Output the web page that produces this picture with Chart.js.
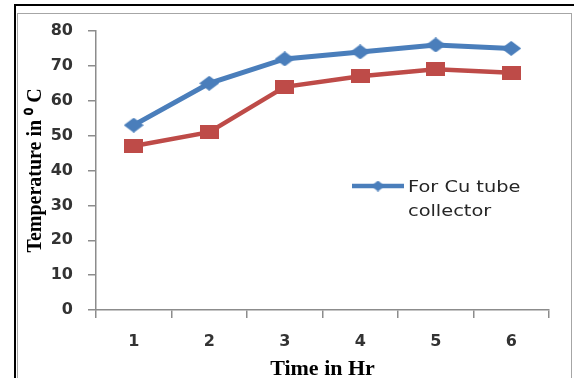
<!DOCTYPE html>
<html>
<head>
<meta charset="utf-8">
<script src="https://cdn.jsdelivr.net/npm/chart.js@4"></script>
<style>
  html, body { margin: 0; padding: 0; background: #fff; }
  #wrap { position: relative; width: 574px; height: 378px; overflow: hidden; background: #fff; }
  #outer { position: absolute; left: 14px; top: 4px; width: 600px; height: 400px;
           border-left: 2px solid #000; border-top: 2px solid #000; box-sizing: border-box; }
  #frame { position: absolute; left: 16.5px; top: 12.5px; width: 555px; height: 400px;
           border: 1.5px solid #a6a6a6; box-sizing: border-box; }
  #c { position: absolute; left: 0; top: 0; }
</style>
</head>
<body>
<div id="wrap">
  <div id="outer"></div>
  <div id="frame"></div>
  <canvas id="c" width="574" height="378"></canvas>
</div>
<script>
const categories = ['1', '2', '3', '4', '5', '6'];
const cuTube = [53, 65, 72, 74, 76, 75];
const secondSeries = [47, 51, 64, 67, 69, 68];
const yTicks = [0, 10, 20, 30, 40, 50, 60, 70, 80];
const xTitle = 'Time in Hr';
const yTitle = 'Temperature in \u2070 C';
const legendLines = ['For Cu tube', 'collector'];

const BLUE = '#4A7EBB';
const RED = '#BE4B48';

function makeMarker(shape, w, h, color) {
  const cv = document.createElement('canvas');
  cv.width = w; cv.height = h;
  const g = cv.getContext('2d');
  g.fillStyle = color;
  g.beginPath();
  if (shape === 'diamond') {
    g.moveTo(w / 2, 0); g.lineTo(w, h / 2); g.lineTo(w / 2, h); g.lineTo(0, h / 2);
  } else {
    g.rect(0, 0, w, h);
  }
  g.closePath();
  g.fill();
  return cv;
}
const blueDiamond = makeMarker('diamond', 20, 15, BLUE);
const redSquare = makeMarker('square', 19, 14, RED);
const legendDiamond = makeMarker('diamond', 13, 11, BLUE);

const legendPlugin = {
  id: 'insideLegend',
  afterDatasetsDraw(chart) {
    const ctx = chart.ctx;
    const a = chart.chartArea;
    const x0 = a.left + 256, y0 = a.top + 155;
    ctx.save();
    ctx.strokeStyle = BLUE;
    ctx.lineWidth = 4.5;
    ctx.beginPath();
    ctx.moveTo(x0, y0); ctx.lineTo(x0 + 52, y0);
    ctx.stroke();
    ctx.drawImage(legendDiamond, x0 + 26 - 6.5, y0 - 5.5);
    ctx.fillStyle = '#262626';
    ctx.font = '16px "DejaVu Sans"';
    ctx.textBaseline = 'alphabetic';
    ctx.textAlign = 'left';
    legendLines.forEach((t, i) => {
      ctx.save();
      ctx.translate(x0 + 56, y0 + 6 + i * 23.5);
      ctx.scale(1.21, 1);
      ctx.fillText(t, 0, 0);
      ctx.restore();
    });
    ctx.restore();
  }
};

new Chart(document.getElementById('c'), {
  type: 'line',
  data: {
    labels: categories,
    datasets: [
      {
        label: 'For Cu tube collector',
        data: cuTube,
        borderColor: BLUE,
        backgroundColor: BLUE,
        borderWidth: 5,
        pointStyle: blueDiamond,
        tension: 0
      },
      {
        label: 'Series 2',
        data: secondSeries,
        borderColor: RED,
        backgroundColor: RED,
        borderWidth: 4.5,
        pointStyle: redSquare,
        tension: 0
      }
    ]
  },
  options: {
    responsive: false,
    animation: false,
    devicePixelRatio: 1,
    layout: { padding: { left: 20, right: 25, top: 31, bottom: 0 } },
    plugins: { legend: { display: false }, tooltip: { enabled: false } },
    scales: {
      x: {
        offset: true,
        grid: { offset: true, drawOnChartArea: false, color: '#8c8c8c', tickLength: 8, lineWidth: 1.5 },
        border: { color: '#8c8c8c', width: 1.5 },
        ticks: { color: '#333', font: { family: '"DejaVu Sans"', size: 16, weight: 'bold' }, padding: 14 },
        title: { display: true, text: xTitle, color: '#000',
                 font: { family: '"Liberation Serif"', size: 22, weight: 'bold' },
                 padding: { top: 0, bottom: -5 } },
        afterFit(scale) { scale.height = 68; }
      },
      y: {
        min: 0, max: 80,
        afterBuildTicks(scale) { scale.ticks = yTicks.map(v => ({ value: v })); },
        grid: { drawOnChartArea: false, color: '#8c8c8c', tickLength: 8, lineWidth: 1.5 },
        border: { color: '#8c8c8c', width: 1.5 },
        ticks: { color: '#333', font: { family: '"DejaVu Sans"', size: 16, weight: 'bold' }, padding: 15 },
        title: { display: true, text: yTitle, color: '#000',
                 font: { family: '"Liberation Serif"', size: 20, weight: 'bold' },
                 padding: { top: 4, bottom: 0 } },
        afterFit(scale) { scale.width = 76; }
      }
    }
  },
  plugins: [legendPlugin]
});
</script>
</body>
</html>
